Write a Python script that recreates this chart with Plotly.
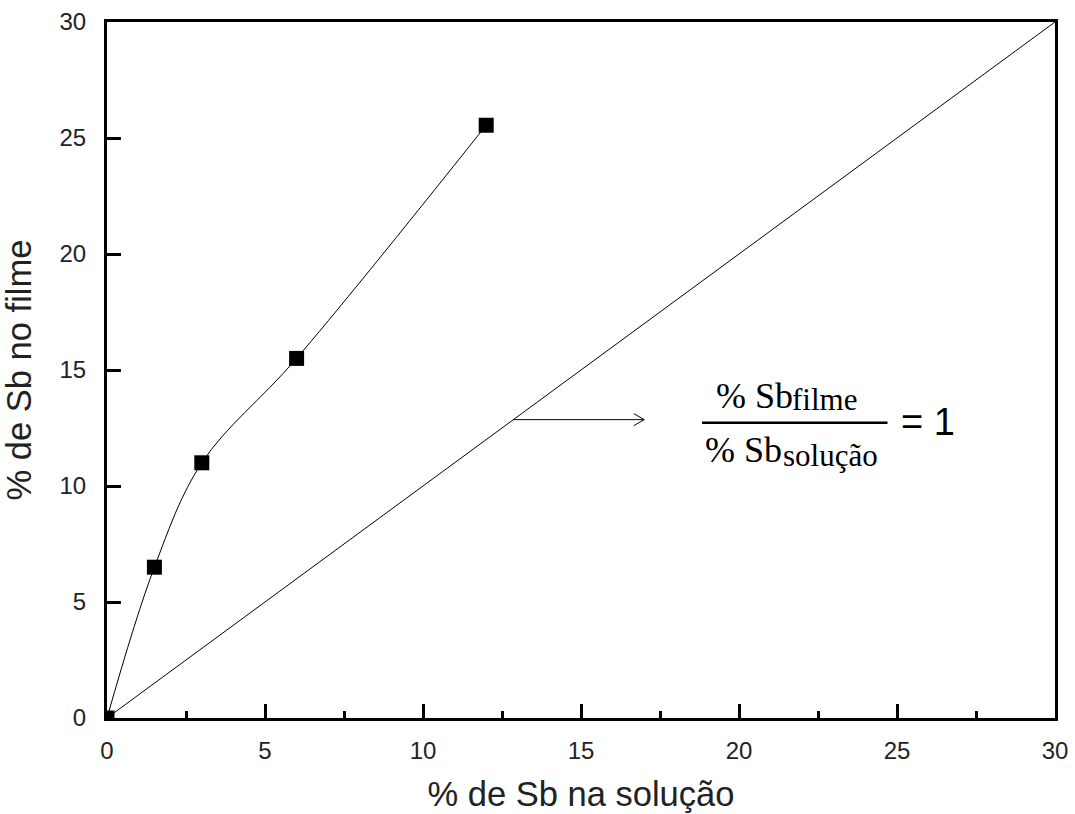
import plotly.graph_objects as go

# data
sol = [0, 1.5, 3, 6, 12]
film = [0, 6.5, 11, 15.5, 25.55]
ref_x = [0, 30]
ref_y = [0, 30]
ticks = [0, 5, 10, 15, 20, 25, 30]

fig = go.Figure()
fig.add_trace(go.Scatter(x=ref_x, y=ref_y, mode="lines",
                         line=dict(color="black", width=1), showlegend=False))
fig.add_trace(go.Scatter(x=sol, y=film, mode="lines+markers",
                         line=dict(color="black", width=1, shape="spline", smoothing=1.0),
                         marker=dict(symbol="square", size=15, color="black"),
                         showlegend=False))

sans = "Liberation Sans, Arial"
axis_common = dict(range=[0, 30], tickvals=ticks, ticks="inside", ticklen=14, tickwidth=2.5,
                   tickcolor="black", showline=True, linewidth=3, linecolor="black",
                   mirror=True, showgrid=False, zeroline=False, automargin=False,
                   tickfont=dict(family=sans, size=24, color="#222"))
fig.update_xaxes(**axis_common, ticklabelstandoff=9,
                 minor=dict(ticks="inside", ticklen=7, tickwidth=2.5, tickcolor="black",
                            dtick=2.5, showgrid=False),
                 title=dict(text="% de Sb na solução", standoff=20,
                            font=dict(family=sans, size=34.5, color="#222")))
fig.update_yaxes(**axis_common, ticklabelstandoff=13,
                 title=dict(text="% de Sb no filme", standoff=22,
                            font=dict(family=sans, size=34.5, color="#222")))

# arrow from the identity line to the formula
arrow_start = 12.85
arrow_end = 17.0
arrow_y = 12.86
fig.add_shape(type="line", x0=arrow_start, y0=arrow_y, x1=arrow_end, y1=arrow_y,
              line=dict(color="black", width=1))
fig.add_shape(type="line", x0=arrow_end, y0=arrow_y, x1=arrow_end - 0.33, y1=arrow_y + 0.26,
              line=dict(color="black", width=1))
fig.add_shape(type="line", x0=arrow_end, y0=arrow_y, x1=arrow_end - 0.33, y1=arrow_y - 0.26,
              line=dict(color="black", width=1))

# formula
serif = "Liberation Serif, DejaVu Serif"
def txt(x, y, s, size, family=serif):
    fig.add_annotation(x=x, y=y, xref="x", yref="y", xanchor="left", yanchor="middle",
                       showarrow=False, text=s, font=dict(family=family, size=size, color="black"))

txt(19.2, 13.9, "% Sb", 36)
txt(21.62, 13.73, "filme", 31)
txt(18.85, 11.57, "% Sb", 36)
txt(21.32, 11.3, "solução", 31)
fig.add_shape(type="line", x0=18.83, x1=24.7, y0=12.73, y1=12.73, xref="x", yref="y",
              line=dict(color="black", width=2.5))
txt(25.05, 12.75, "= 1", 38, sans)

fig.update_layout(width=1075, height=814, margin=dict(l=107, r=20, t=22, b=96),
                  plot_bgcolor="white", paper_bgcolor="white")
fig.write_html("out.html")
